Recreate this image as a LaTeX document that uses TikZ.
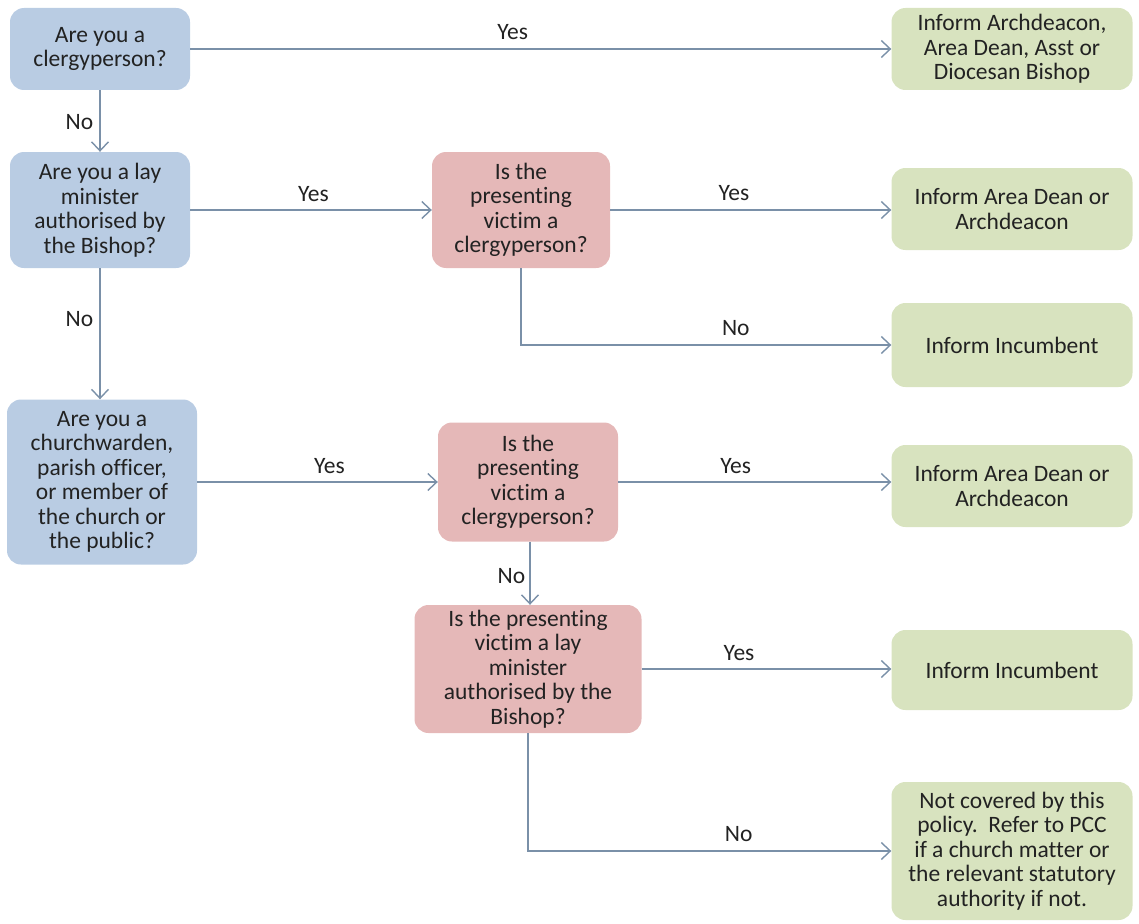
\documentclass[tikz,border=0pt]{standalone}
\usepackage{fontspec}
\setmainfont[Ligatures=NoCommon]{Carlito}
\usetikzlibrary{arrows.meta}
\definecolor{bluebox}{HTML}{B9CCE3}
\definecolor{pinkbox}{HTML}{E5B8B8}
\definecolor{greenbox}{HTML}{D8E3BF}
\definecolor{linec}{HTML}{7A90A8}
\definecolor{txt}{HTML}{222222}
\tikzset{
  box/.style={rounded corners=14pt, inner sep=0pt, align=center, text=txt,
    font=\fontsize{23.5}{24.5}\selectfont},
  qblue/.style={box, fill=bluebox},
  qpink/.style={box, fill=pinkbox},
  agreen/.style={box, fill=greenbox},
  arr/.style={draw=linec, line width=1.4pt, -{Straight Barb[length=9pt,width=17pt,line width=1.4pt]}},
  lbl/.style={text=txt, font=\fontsize{23.5}{24.5}\selectfont, inner sep=2pt},
}
\begin{document}
\begin{tikzpicture}[x=1pt,y=-1pt]
\useasboundingbox (0,0) rectangle (1139,923);
% left column
\node[qblue, minimum width=180pt, minimum height=82pt] (b1) at (100,49) {Are you a\\clergyperson?};
\node[qblue, minimum width=180pt, minimum height=116pt] (b2) at (100,210) {Are you a lay\\minister\\authorised by\\the Bishop?};
\node[qblue, minimum width=190pt, minimum height=165pt] (b3) at (102,482) {Are you a\\churchwarden,\\parish officer,\\or member of\\the church or\\the public?};
% middle column
\node[qpink, minimum width=178pt, minimum height=116pt] (rA) at (521,210) {Is the\\presenting\\victim a\\clergyperson?};
\node[qpink, minimum width=180pt, minimum height=119pt] (rB) at (528,482) {Is the\\presenting\\victim a\\clergyperson?};
\node[qpink, minimum width=227pt, minimum height=128pt] (rC) at (528,669) {Is the presenting\\victim a lay\\minister\\authorised by the\\Bishop?};
% right column
\node[agreen, minimum width=241pt, minimum height=82pt] (g1) at (1012,49) {Inform Archdeacon,\\Area Dean, Asst or\\Diocesan Bishop};
\node[agreen, minimum width=241pt, minimum height=82pt] (g2) at (1012,209) {Inform Area Dean or\\Archdeacon};
\node[agreen, minimum width=241pt, minimum height=84pt] (g3) at (1012,345) {Inform Incumbent};
\node[agreen, minimum width=241pt, minimum height=82pt] (g4) at (1012,486) {Inform Area Dean or\\Archdeacon};
\node[agreen, minimum width=241pt, minimum height=80pt] (g5) at (1012,670) {Inform Incumbent};
\node[agreen, minimum width=241pt, minimum height=138pt] (g6) at (1012,851) {Not covered by this\\policy.\ \ Refer to PCC\\if a church matter or\\the relevant statutory\\authority if not.};
% connectors
\draw[arr] (b1.east) -- node[lbl, above=7pt, pos=0.46] {Yes} (b1.east -| g1.west);
\draw[arr] (b1.south) -- node[lbl, left=4pt, pos=0.52] {No} (b2.north);
\draw[arr] (b2.east) -- node[lbl, above=6pt, pos=0.51] {Yes} (rA.west);
\draw[arr] (b2.south) -- node[lbl, left=4pt, pos=0.39] {No} (b2.south |- b3.north);
\draw[arr] (rA.east) -- node[lbl, above=7pt, pos=0.44] {Yes} (rA.east -| g2.west);
\draw[arr] (rA.south) |- node[lbl, above=7pt, pos=0.79] {No} (g3.west);
\draw[arr] (b3.east) -- node[lbl, above=6pt, pos=0.55] {Yes} (rB.west);
\draw[arr] (rB.east) -- node[lbl, above=6pt, pos=0.43] {Yes} (rB.east -| g4.west);
\draw[arr] ([xshift=2pt]rB.south) -- node[lbl, left=2pt, pos=0.55] {No} ([xshift=2pt]rB.south |- rC.north);
\draw[arr] (rC.east) -- node[lbl, above=6pt, pos=0.39] {Yes} (rC.east -| g5.west);
\draw[arr] (rC.south) |- node[lbl, above=7pt, pos=0.79] {No} (g6.west);
\end{tikzpicture}
\end{document}
